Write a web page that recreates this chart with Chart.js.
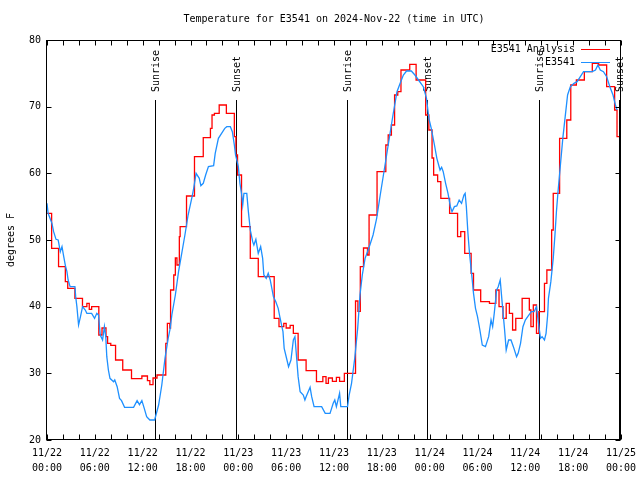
<!DOCTYPE html>
<html><head><meta charset="utf-8">
<script src="https://cdn.jsdelivr.net/npm/chart.js@4.4.1/dist/chart.umd.min.js"></script>
<style>html,body{margin:0;padding:0;background:#fff}canvas{display:block}</style>
</head><body>
<canvas id="c" width="640" height="480"></canvas>
<script>
// ---- data ----
const titleText = 'Temperature for E3541 on 2024-Nov-22 (time in UTC)';
const yTitle = 'degrees F';
const dayLabels  = ['11/22','11/22','11/22','11/22','11/23','11/23','11/23','11/23','11/24','11/24','11/24','11/24','11/25'];
const timeLabels = ['00:00','06:00','12:00','18:00','00:00','06:00','12:00','18:00','00:00','06:00','12:00','18:00','00:00'];
const sunriseHours = [13.6, 37.65, 61.7];
const sunsetHours  = [23.72, 47.7, 71.75];
const seriesNames = ['E3541 Analysis', 'E3541'];

// analysis (step values; hours since 11/22 00:00 UTC)
const redHours = [0,0.58,1.45,2.3,2.6,3.5,4.45,5.0,5.3,5.6,6.5,6.9,7.4,7.6,8.0,8.6,9.5,10.6,11.9,12.6,12.9,13.3,13.8,14.9,15.1,15.4,15.5,15.9,16.1,16.3,16.6,16.7,17.5,18.5,19.6,20.5,20.7,21.0,21.6,22.5,23.5,23.7,23.9,24.4,25.5,26.5,28.5,29.1,29.7,30.0,30.5,30.9,31.5,32.5,33.8,34.6,35.0,35.3,35.8,36.3,36.7,37.3,38.7,39.0,39.3,39.7,40.2,40.4,41.4,42.5,42.8,43.2,43.6,44.0,44.4,45.5,46.3,47.5,47.9,48.3,48.5,49.0,49.4,50.5,51.5,51.9,52.4,53.2,53.5,54.4,55.5,56.3,56.7,57.2,57.6,58.0,58.4,58.8,59.6,60.5,60.7,61.0,61.4,61.7,62.4,62.7,63.3,63.5,64.3,65.2,65.7,66.4,67.4,68.4,69.2,70.2,71.2,71.5,71.75];
const redTemps = [54,48.75,46,43.75,42.75,41.25,40,40.5,39.6,40,35.75,36.8,35.5,34.5,34.2,32,30.5,29.2,29.6,28.9,28.3,29.3,29.75,34.5,37.5,36.8,42.5,44.75,47.3,46.25,50.5,52,56.6,62.5,65.35,66.75,68.75,69,70.25,69,65.5,62.75,59.75,52,47.25,44.5,38.25,37,37.5,36.8,37.2,36,32,30.4,28.75,29.5,28.5,29.3,28.8,29.4,28.8,30,40.85,39.3,46,48.8,47.75,53.75,60.25,64.25,65.75,67.25,71.75,72.25,75.5,76.35,74,68.75,66.5,62.3,59.75,58.75,56.25,54,50.5,51.25,48,45,42.5,40.75,40.5,42.5,40,38.25,40.5,39,36.5,38.25,41.25,39.5,37,40.25,36,39.25,43.5,45.5,51.5,57,65.25,68,73.25,74,75.25,76.5,76.25,73,69.5,65.5,65.5];

// observations
const blueHours = [0,0.14,0.62,0.83,1.13,1.4,1.67,1.88,2.1,2.3,2.5,2.65,2.9,3.5,3.6,3.75,3.96,4.2,4.46,4.8,5.0,5.6,5.97,6.25,6.46,6.68,6.97,7.2,7.37,7.5,7.7,7.9,8.35,8.5,8.8,9.1,9.35,9.73,10.86,11.3,11.6,11.9,12.2,12.5,12.9,13.5,14.0,14.4,14.8,15.2,15.45,15.66,16.1,16.5,16.9,17.3,17.7,18.2,18.4,18.7,19.1,19.3,19.6,19.9,20.25,20.9,21.1,21.5,21.9,22.3,22.55,23.0,23.25,23.5,23.65,24.0,24.2,24.4,24.55,24.7,25.06,25.26,25.5,25.8,25.95,26.2,26.5,26.8,27.05,27.2,27.5,27.75,28.0,28.4,28.7,29.0,29.2,29.6,29.75,30.1,30.3,30.6,30.9,31.1,31.3,31.5,31.75,32.15,32.35,32.5,33.0,33.2,33.5,34.45,34.9,35.5,35.9,36.1,36.3,36.7,36.85,37.7,37.9,38.2,38.6,38.97,39.26,39.55,39.9,40.2,40.5,40.9,41.35,41.8,42.2,42.6,43.0,43.4,43.9,44.3,44.7,45.1,45.7,46.15,46.6,47.2,47.6,47.9,48.2,48.6,48.9,49.3,49.5,49.7,50.0,50.3,50.6,50.8,51.1,51.4,51.7,52.0,52.3,52.45,52.6,52.8,53.0,53.3,53.5,53.75,54.0,54.3,54.6,55.0,55.4,55.7,55.9,56.1,56.4,56.6,56.85,57.1,57.4,57.6,57.9,58.2,58.5,58.9,59.1,59.4,59.7,60.0,60.3,60.75,61.1,61.4,61.6,61.9,62.1,62.4,62.6,62.8,62.9,63.2,63.5,63.7,63.9,64.1,64.4,64.7,65.0,65.3,65.65,66.1,66.5,66.9,67.3,68.4,68.8,69.1,69.4,69.8,70.2,70.6,71.0,71.3,71.5];
const blueTemps = [55.5,54,52.5,51.25,50.1,50,48.25,49,47.5,46.2,45.25,44,43,43,41.5,40,37.25,38.5,40,39.5,39,39,38.25,39,38.75,35.75,35,37,35.5,32.5,30.5,29.25,28.75,29,28,26.25,25.9,24.9,24.9,25.9,25.3,25.9,24.75,23.5,23,23,25.25,28.25,32.25,35.25,36.75,38.75,41.75,45.25,48,50.75,53.75,56.5,57.75,60,59.25,58.15,58.5,59.75,61,61.15,63,65.25,66,66.75,67,67,66.25,64.25,62.75,61,58.5,57,55.25,57,57,54.25,51.5,49.75,49.25,50.1,48,49,47.25,44.75,44.25,45,44,41.5,40.75,39.75,38.5,36.25,33.75,32,31,32,35,35.5,32.5,29.5,27.25,26.75,26,26.5,27.9,26.5,25,25,24,24,25.5,26,25,27,25,25,26.75,28.5,32.25,36.75,41.75,44.75,47.25,48.25,49.25,50.75,53.25,56.75,59.75,62.75,65.75,68.75,72.25,73.5,74.75,75.35,75.35,74.75,74,73,71.25,68.25,66.75,64.25,62.25,60.5,60.9,60.25,58.5,57,55,54.25,55,55.1,56,55.5,56.75,57,55,51,48,44.5,42,39.75,38.5,36.5,34.25,34,35.5,38,37,39,42.5,43,44,40.5,36.5,33.5,35,35,34,32.5,33,34.5,37,38,38.5,39.25,39.25,40,38,35.25,35.5,35,36,38.75,41.25,43.75,47.25,50.5,54.25,57.25,61.25,65.25,68.5,71.75,73,73.5,73.75,74.5,75.25,75.25,75.5,76.25,75.5,75.25,74.5,73,71.75,70.25,69.5];

const redColor = '#ff0000';
const blueColor = '#1e90ff';
const FONT = {family: 'DejaVu Sans Mono', size: 10, weight: 'normal', lineHeight: 1.5};

const toPts = (xs, ys) => xs.map((h, i) => ({x: h, y: ys[i]}));

const decorPlugin = {
  id: 'decor',
  beforeDatasetsDraw(chart) {
    const {ctx, chartArea: a, scales: {x, y}} = chart;
    ctx.save();
    ctx.strokeStyle = '#000';
    ctx.lineWidth = 1;
    ctx.fillStyle = '#000';
    ctx.font = '10px "DejaVu Sans Mono"';
    const topY = Math.round(y.getPixelForValue(71));
    const drawSun = (h, label) => {
      const px = Math.round(x.getPixelForValue(h)) + 0.5;
      ctx.beginPath();
      ctx.moveTo(px, topY);
      ctx.lineTo(px, a.bottom);
      ctx.stroke();
      ctx.save();
      ctx.translate(px + 0.5, topY - 8);
      ctx.rotate(-Math.PI / 2);
      ctx.textAlign = 'left';
      ctx.textBaseline = 'middle';
      ctx.fillText(label, 0, 0);
      ctx.restore();
    };
    sunriseHours.forEach(h => drawSun(h, 'Sunrise'));
    sunsetHours.forEach(h => drawSun(h, 'Sunset'));
    ctx.restore();
  },
  afterDatasetsDraw(chart) {
    const {ctx, chartArea: a, scales: {x, y}} = chart;
    ctx.save();
    ctx.strokeStyle = '#000';
    ctx.lineWidth = 1;
    const L = Math.round(a.left) - 0.5, R = Math.round(a.right) - 0.5;
    const T = Math.round(a.top) + 0.5, B = Math.round(a.bottom) - 0.5;
    ctx.strokeRect(L, T, R - L, B - T);
    ctx.beginPath();
    for (let h = 0; h <= 72; h += 2) {
      const px = Math.round(x.getPixelForValue(h)) + 0.5;
      ctx.moveTo(px, B); ctx.lineTo(px, B - 5);
      ctx.moveTo(px, T); ctx.lineTo(px, T + 5);
    }
    for (let v = 20; v <= 80; v += 10) {
      const py = Math.round(y.getPixelForValue(v)) + 0.5;
      ctx.moveTo(L, py); ctx.lineTo(L + 5, py);
      ctx.moveTo(R, py); ctx.lineTo(R - 5, py);
    }
    ctx.stroke();
    // title, centred over the plot area
    ctx.font = '10px "DejaVu Sans Mono"';
    ctx.fillStyle = '#000';
    ctx.textAlign = 'center';
    ctx.textBaseline = 'middle';
    ctx.fillText(titleText, (a.left + a.right) / 2, 19);
    // key
    ctx.textAlign = 'right';
    const keyRows = [[seriesNames[0], redColor, 49], [seriesNames[1], blueColor, 62]];
    keyRows.forEach(([name, col, ky]) => {
      ctx.fillText(name, 575, ky);
      ctx.strokeStyle = col;
      ctx.beginPath();
      ctx.moveTo(581, ky + 0.5); ctx.lineTo(610, ky + 0.5);
      ctx.stroke();
    });
    ctx.restore();
  }
};

new Chart(document.getElementById('c'), {
  type: 'line',
  data: {
    datasets: [
      {label: seriesNames[0], data: toPts(redHours, redTemps), borderColor: redColor, borderWidth: 1.3,
       pointRadius: 0, stepped: true, fill: false, order: 1},
      {label: seriesNames[1], data: toPts(blueHours, blueTemps), borderColor: blueColor, borderWidth: 1.3,
       pointRadius: 0, tension: 0, fill: false, order: 0}
    ]
  },
  options: {
    responsive: false,
    animation: false,
    devicePixelRatio: 1,
    layout: {padding: {left: 0, right: 19, top: 40, bottom: 0}},
    plugins: {
      legend: {display: false},
      tooltip: {enabled: false},
      title: {display: false}
    },
    scales: {
      x: {
        type: 'linear', min: 0, max: 72,
        grid: {display: false, drawTicks: false},
        border: {display: false},
        ticks: {stepSize: 6, autoSkip: false, maxRotation: 0, minRotation: 0, color: '#000', font: FONT, padding: 6,
                callback: (v) => { const i = Math.round(v / 6); return [dayLabels[i], timeLabels[i]]; }},
        afterFit: (s) => { s.height = 40; s.paddingLeft = 0; s.paddingRight = 0; }
      },
      y: {
        min: 20, max: 80,
        grid: {display: false, drawTicks: false},
        border: {display: false},
        ticks: {stepSize: 10, color: '#000', font: FONT, padding: 6},
        title: {display: true, text: yTitle, color: '#000', font: {...FONT, lineHeight: 1.2}, padding: {top: 5, bottom: 0}},
        afterFit: (s) => { s.width = 47; }
      }
    }
  },
  plugins: [decorPlugin]
});
</script>
</body></html>
